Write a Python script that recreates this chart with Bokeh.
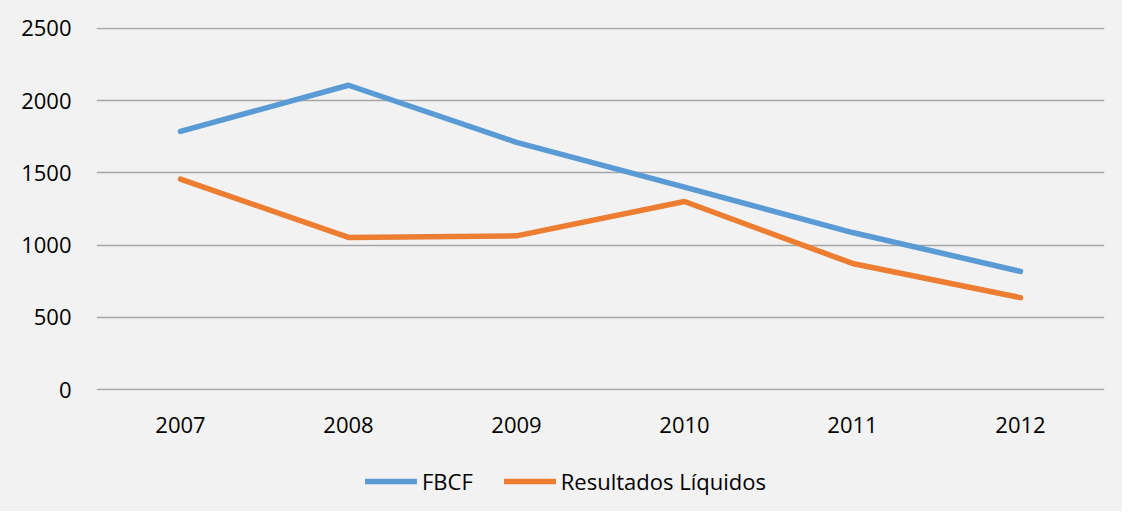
from bokeh.plotting import figure
from bokeh.layouts import column
from bokeh.models import Legend, LegendItem
from bokeh.embed import file_html
from bokeh.resources import INLINE

years = ["2007", "2008", "2009", "2010", "2011", "2012"]
fbcf = [1787, 2107, 1712, 1402, 1087, 818]
resultados = [1457, 1053, 1064, 1302, 873, 636]
y_ticks = [0, 500, 1000, 1500, 2000, 2500]
series_names = ["FBCF", "Resultados Líquidos"]
series_colors = ["#5B9BD5", "#ED7D31"]

BG = "#F2F2F2"
FONT = "Open Sans"
FS = "22px"

p = figure(x_range=years, y_range=(-6.9, 2506.9),
           frame_width=1008, frame_height=363,
           output_backend="svg", toolbar_location=None,
           background_fill_color=BG, border_fill_color=BG,
           min_border_left=96, min_border_right=18, min_border_top=27,
           min_border_bottom=70, styles={"background-color": BG})
p.outline_line_color = None

p.line(years, fbcf, line_color=series_colors[0], line_width=5.5, line_cap="round", line_join="round")
p.line(years, resultados, line_color=series_colors[1], line_width=5.5, line_cap="round", line_join="round")

p.yaxis.ticker = y_ticks
p.xgrid.grid_line_color = None
p.ygrid.grid_line_color = "#A6A6A6"
p.ygrid.grid_line_width = 1.3

for ax in (p.xaxis[0], p.yaxis[0]):
    ax.axis_line_color = None
    ax.major_tick_line_color = None
    ax.minor_tick_line_color = None
    ax.major_label_text_font = FONT
    ax.major_label_text_font_size = FS
    ax.major_label_text_color = "#000000"
p.yaxis.major_label_standoff = 19
p.xaxis.major_label_standoff = 20

# legend strip below the chart
lg = figure(x_range=(0, 1), y_range=(0, 1), frame_width=1008, frame_height=51,
            output_backend="svg", toolbar_location=None,
            x_axis_type=None, y_axis_type=None,
            background_fill_color=BG, border_fill_color=BG,
            min_border_left=96, min_border_right=18, min_border_top=0, min_border_bottom=0,
            styles={"background-color": BG})
lg.outline_line_color = None
lg.xgrid.visible = False
lg.ygrid.visible = False
items = []
for name, col in zip(series_names, series_colors):
    # off-range points: only the legend sample of this line is seen
    r = lg.line(x=[-10, -9], y=[-10, -9], line_color=col, line_width=5.5, line_cap="round")
    items.append(LegendItem(label=name, renderers=[r]))

legend = Legend(items=items, orientation="horizontal", location=(269, 15),
                background_fill_alpha=0, border_line_color=None,
                label_text_font=FONT, label_text_font_size=FS,
                label_text_color="#000000",
                glyph_width=52, glyph_height=20, label_standoff=5,
                spacing=31, margin=0, padding=0)
lg.add_layout(legend)

layout = column(p, lg, spacing=0, styles={"background-color": BG})
open("out.html", "w").write(file_html(layout, INLINE))
